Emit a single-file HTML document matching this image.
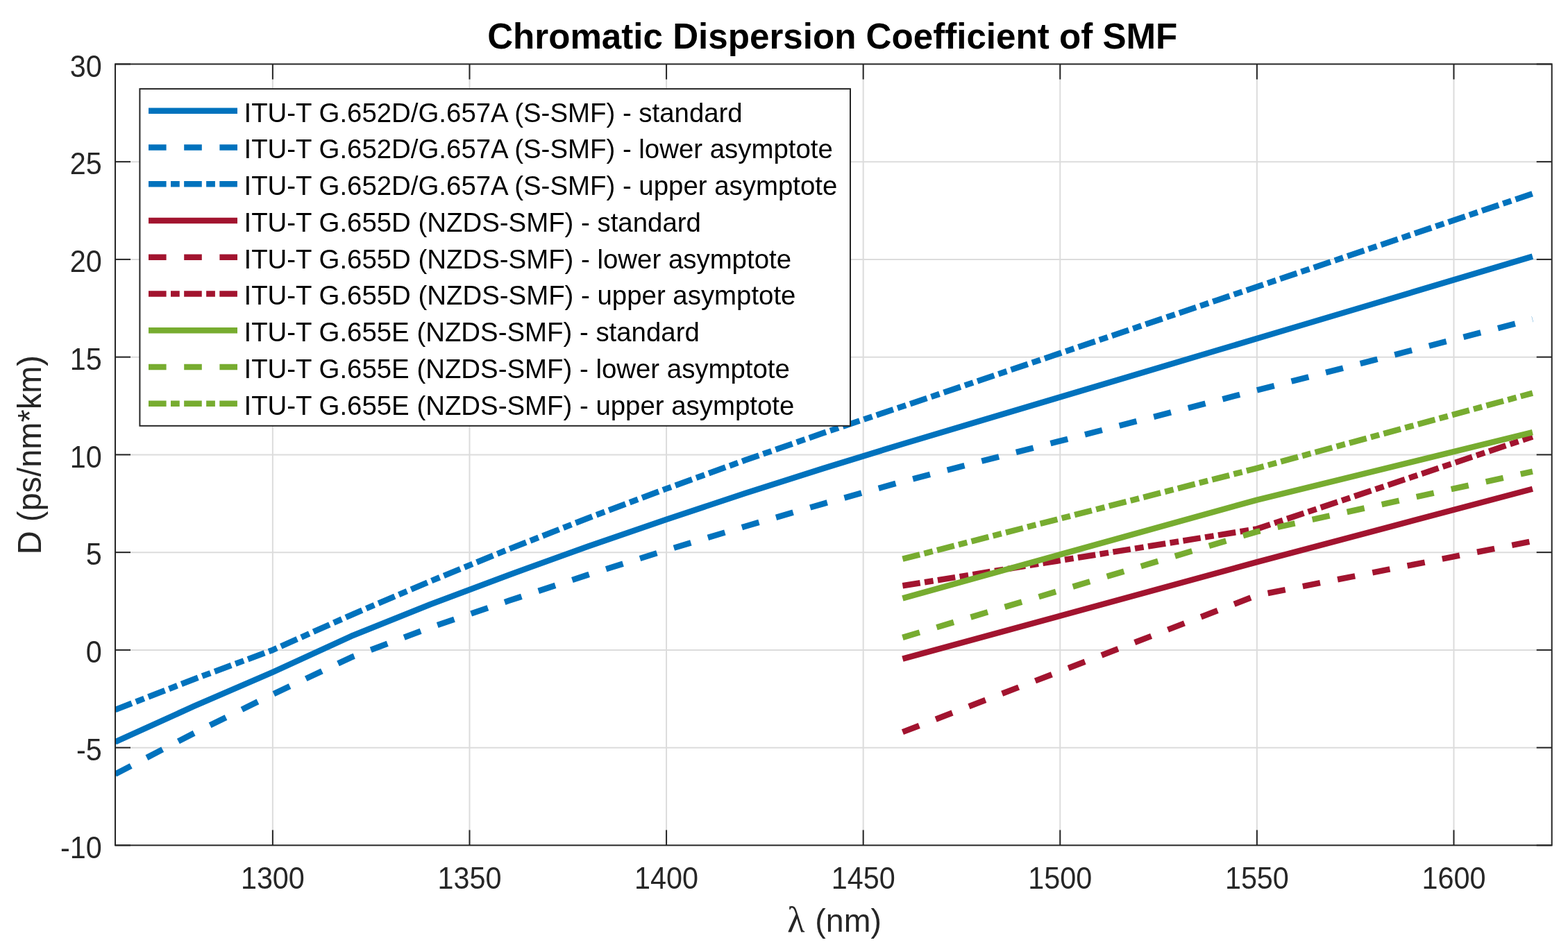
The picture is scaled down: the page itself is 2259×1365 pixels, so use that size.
<!DOCTYPE html>
<html><head><meta charset="utf-8"><title>Chromatic Dispersion Coefficient of SMF</title>
<style>
html,body{margin:0;padding:0;background:#fff;overflow:hidden;}
svg{display:block;}
text{font-family:"Liberation Sans", Arial, Helvetica, sans-serif;}
</style></head><body>
<svg width="2259" height="1365" viewBox="0 0 2259 1365">
<rect x="0" y="0" width="2259" height="1365" fill="#fff"/>
<defs><clipPath id="ax"><rect x="166.00" y="92.40" width="2069.70" height="1126.00"/></clipPath></defs>

<g stroke="#dcdcdc" stroke-width="2"><line x1="392.88" y1="92.40" x2="392.88" y2="1218.40"/><line x1="676.48" y1="92.40" x2="676.48" y2="1218.40"/><line x1="960.08" y1="92.40" x2="960.08" y2="1218.40"/><line x1="1243.68" y1="92.40" x2="1243.68" y2="1218.40"/><line x1="1527.28" y1="92.40" x2="1527.28" y2="1218.40"/><line x1="1810.88" y1="92.40" x2="1810.88" y2="1218.40"/><line x1="2094.48" y1="92.40" x2="2094.48" y2="1218.40"/><line x1="166.00" y1="1077.65" x2="2235.70" y2="1077.65"/><line x1="166.00" y1="936.90" x2="2235.70" y2="936.90"/><line x1="166.00" y1="796.15" x2="2235.70" y2="796.15"/><line x1="166.00" y1="655.40" x2="2235.70" y2="655.40"/><line x1="166.00" y1="514.65" x2="2235.70" y2="514.65"/><line x1="166.00" y1="373.90" x2="2235.70" y2="373.90"/><line x1="166.00" y1="233.15" x2="2235.70" y2="233.15"/></g>
<g clip-path="url(#ax)"><polyline points="166.00,1069.40 279.44,1017.92 392.88,968.85 506.32,916.79 619.76,871.23 733.20,828.65 846.64,787.84 960.08,748.68 1073.52,711.04 1186.96,674.84 1300.40,639.96 1413.84,606.17 1527.28,572.38 1640.72,538.59 1754.16,504.80 1867.60,471.01 1981.04,437.22 2094.48,403.44 2207.92,369.65" fill="none" stroke="#0072BD" stroke-width="8.5" stroke-linecap="butt" stroke-linejoin="round" />
<polyline points="166.00,1115.71 279.44,1056.86 392.88,1000.80 506.32,947.31 619.76,904.61 733.20,865.81 846.64,828.64 960.08,792.99 1073.52,758.74 1186.96,725.81 1300.40,694.11 1413.84,664.86 1527.28,635.62 1640.72,606.37 1754.16,577.13 1867.60,547.88 1981.04,518.64 2094.48,489.39 2207.92,460.15" fill="none" stroke="#0072BD" stroke-width="8.5" stroke-linecap="butt" stroke-linejoin="round" stroke-dasharray="25.6 25.6"/>
<polyline points="166.00,1023.10 279.44,978.97 392.88,936.90 506.32,886.27 619.76,837.85 733.20,791.50 846.64,747.05 960.08,704.37 1073.52,663.35 1186.96,623.86 1300.40,585.81 1413.84,547.47 1527.28,509.14 1640.72,470.81 1754.16,432.48 1867.60,394.14 1981.04,355.81 2094.48,317.48 2207.92,279.15" fill="none" stroke="#0072BD" stroke-width="8.5" stroke-linecap="butt" stroke-linejoin="round" stroke-dasharray="25.6 6.4 12.75 6.4"/>
<polyline points="1300.40,949.71 1810.88,810.22 2207.92,704.74" fill="none" stroke="#A2142F" stroke-width="8.5" stroke-linecap="butt" stroke-linejoin="round" />
<polyline points="1300.40,1055.13 1810.88,858.08 2207.92,780.05" fill="none" stroke="#A2142F" stroke-width="8.5" stroke-linecap="butt" stroke-linejoin="round" stroke-dasharray="25.6 25.6"/>
<polyline points="1300.40,844.29 1810.88,762.37 2207.92,629.43" fill="none" stroke="#A2142F" stroke-width="8.5" stroke-linecap="butt" stroke-linejoin="round" stroke-dasharray="25.6 6.4 12.75 6.4"/>
<polyline points="1300.40,862.30 1810.88,720.57 2207.92,623.09" fill="none" stroke="#77AC30" stroke-width="8.5" stroke-linecap="butt" stroke-linejoin="round" />
<polyline points="1300.40,918.88 1810.88,766.31 2207.92,679.61" fill="none" stroke="#77AC30" stroke-width="8.5" stroke-linecap="butt" stroke-linejoin="round" stroke-dasharray="25.6 25.6"/>
<polyline points="1300.40,805.72 1810.88,674.82 2207.92,566.58" fill="none" stroke="#77AC30" stroke-width="8.5" stroke-linecap="butt" stroke-linejoin="round" stroke-dasharray="25.6 6.4 12.75 6.4"/></g>
<g stroke="#262626" stroke-width="2" fill="none"><line x1="392.88" y1="1218.40" x2="392.88" y2="1196.40"/><line x1="392.88" y1="92.40" x2="392.88" y2="114.40"/><line x1="676.48" y1="1218.40" x2="676.48" y2="1196.40"/><line x1="676.48" y1="92.40" x2="676.48" y2="114.40"/><line x1="960.08" y1="1218.40" x2="960.08" y2="1196.40"/><line x1="960.08" y1="92.40" x2="960.08" y2="114.40"/><line x1="1243.68" y1="1218.40" x2="1243.68" y2="1196.40"/><line x1="1243.68" y1="92.40" x2="1243.68" y2="114.40"/><line x1="1527.28" y1="1218.40" x2="1527.28" y2="1196.40"/><line x1="1527.28" y1="92.40" x2="1527.28" y2="114.40"/><line x1="1810.88" y1="1218.40" x2="1810.88" y2="1196.40"/><line x1="1810.88" y1="92.40" x2="1810.88" y2="114.40"/><line x1="2094.48" y1="1218.40" x2="2094.48" y2="1196.40"/><line x1="2094.48" y1="92.40" x2="2094.48" y2="114.40"/><line x1="166.00" y1="1218.40" x2="188.00" y2="1218.40"/><line x1="2235.70" y1="1218.40" x2="2213.70" y2="1218.40"/><line x1="166.00" y1="1077.65" x2="188.00" y2="1077.65"/><line x1="2235.70" y1="1077.65" x2="2213.70" y2="1077.65"/><line x1="166.00" y1="936.90" x2="188.00" y2="936.90"/><line x1="2235.70" y1="936.90" x2="2213.70" y2="936.90"/><line x1="166.00" y1="796.15" x2="188.00" y2="796.15"/><line x1="2235.70" y1="796.15" x2="2213.70" y2="796.15"/><line x1="166.00" y1="655.40" x2="188.00" y2="655.40"/><line x1="2235.70" y1="655.40" x2="2213.70" y2="655.40"/><line x1="166.00" y1="514.65" x2="188.00" y2="514.65"/><line x1="2235.70" y1="514.65" x2="2213.70" y2="514.65"/><line x1="166.00" y1="373.90" x2="188.00" y2="373.90"/><line x1="2235.70" y1="373.90" x2="2213.70" y2="373.90"/><line x1="166.00" y1="233.15" x2="188.00" y2="233.15"/><line x1="2235.70" y1="233.15" x2="2213.70" y2="233.15"/><line x1="166.00" y1="92.40" x2="188.00" y2="92.40"/><line x1="2235.70" y1="92.40" x2="2213.70" y2="92.40"/><rect x="166.00" y="92.40" width="2069.70" height="1126.00" fill="none"/></g>
<g font-size="42" fill="#262626"><text transform="translate(392.88 1281) scale(0.985 1.072)" text-anchor="middle">1300</text><text transform="translate(676.48 1281) scale(0.985 1.072)" text-anchor="middle">1350</text><text transform="translate(960.08 1281) scale(0.985 1.072)" text-anchor="middle">1400</text><text transform="translate(1243.68 1281) scale(0.985 1.072)" text-anchor="middle">1450</text><text transform="translate(1527.28 1281) scale(0.985 1.072)" text-anchor="middle">1500</text><text transform="translate(1810.88 1281) scale(0.985 1.072)" text-anchor="middle">1550</text><text transform="translate(2094.48 1281) scale(0.985 1.072)" text-anchor="middle">1600</text><text transform="translate(146.8 1236.50) scale(0.985 1.072)" text-anchor="end">-10</text><text transform="translate(146.8 1095.75) scale(0.985 1.072)" text-anchor="end">-5</text><text transform="translate(146.8 955.00) scale(0.985 1.072)" text-anchor="end">0</text><text transform="translate(146.8 814.25) scale(0.985 1.072)" text-anchor="end">5</text><text transform="translate(146.8 673.50) scale(0.985 1.072)" text-anchor="end">10</text><text transform="translate(146.8 532.75) scale(0.985 1.072)" text-anchor="end">15</text><text transform="translate(146.8 392.00) scale(0.985 1.072)" text-anchor="end">20</text><text transform="translate(146.8 251.25) scale(0.985 1.072)" text-anchor="end">25</text><text transform="translate(146.8 110.50) scale(0.985 1.072)" text-anchor="end">30</text></g>
<text x="1134.2" y="1342.9" font-size="46.5" fill="#262626"><tspan font-family="Liberation Serif" font-size="52">λ</tspan><tspan dx="2.0"> (nm)</tspan></text>
<text transform="translate(59.2 655.6) rotate(-90) scale(1 1.037)" font-size="47" fill="#262626" text-anchor="middle">D (ps/nm*km)</text>
<text x="1199.25" y="69.7" font-size="51.13" font-weight="bold" fill="#000" text-anchor="middle">Chromatic Dispersion Coefficient of SMF</text>
<rect x="201.4" y="128.1" width="1023.60" height="485.70" fill="#fff" stroke="#262626" stroke-width="2"/>
<g><line x1="214" y1="159.70" x2="342" y2="159.70" stroke="#0072BD" stroke-width="8.5" />
<text transform="translate(351.5 175.55) scale(1 1.022)" font-size="38.4" fill="#000">ITU-T G.652D/G.657A (S-SMF) - standard</text>
<line x1="214" y1="212.45" x2="342" y2="212.45" stroke="#0072BD" stroke-width="8.5" stroke-dasharray="25.6 25.6"/>
<text transform="translate(351.5 228.30) scale(1 1.022)" font-size="38.4" fill="#000">ITU-T G.652D/G.657A (S-SMF) - lower asymptote</text>
<line x1="214" y1="265.20" x2="342" y2="265.20" stroke="#0072BD" stroke-width="8.5" stroke-dasharray="25.6 6.4 12.75 6.4"/>
<text transform="translate(351.5 281.05) scale(1 1.022)" font-size="38.4" fill="#000">ITU-T G.652D/G.657A (S-SMF) - upper asymptote</text>
<line x1="214" y1="317.95" x2="342" y2="317.95" stroke="#A2142F" stroke-width="8.5" />
<text transform="translate(351.5 333.80) scale(1 1.022)" font-size="38.4" fill="#000">ITU-T G.655D (NZDS-SMF) - standard</text>
<line x1="214" y1="370.70" x2="342" y2="370.70" stroke="#A2142F" stroke-width="8.5" stroke-dasharray="25.6 25.6"/>
<text transform="translate(351.5 386.55) scale(1 1.022)" font-size="38.4" fill="#000">ITU-T G.655D (NZDS-SMF) - lower asymptote</text>
<line x1="214" y1="423.45" x2="342" y2="423.45" stroke="#A2142F" stroke-width="8.5" stroke-dasharray="25.6 6.4 12.75 6.4"/>
<text transform="translate(351.5 439.30) scale(1 1.022)" font-size="38.4" fill="#000">ITU-T G.655D (NZDS-SMF) - upper asymptote</text>
<line x1="214" y1="476.20" x2="342" y2="476.20" stroke="#77AC30" stroke-width="8.5" />
<text transform="translate(351.5 492.05) scale(1 1.022)" font-size="38.4" fill="#000">ITU-T G.655E (NZDS-SMF) - standard</text>
<line x1="214" y1="528.95" x2="342" y2="528.95" stroke="#77AC30" stroke-width="8.5" stroke-dasharray="25.6 25.6"/>
<text transform="translate(351.5 544.80) scale(1 1.022)" font-size="38.4" fill="#000">ITU-T G.655E (NZDS-SMF) - lower asymptote</text>
<line x1="214" y1="581.70" x2="342" y2="581.70" stroke="#77AC30" stroke-width="8.5" stroke-dasharray="25.6 6.4 12.75 6.4"/>
<text transform="translate(351.5 597.55) scale(1 1.022)" font-size="38.4" fill="#000">ITU-T G.655E (NZDS-SMF) - upper asymptote</text></g>
</svg>
</body></html>
